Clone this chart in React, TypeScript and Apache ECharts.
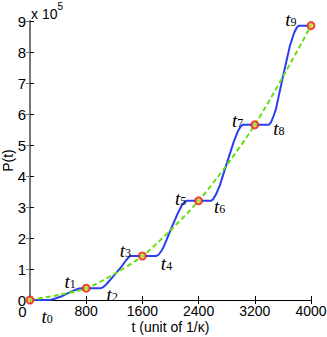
import React, { useEffect, useRef } from "react";
import * as echarts from "echarts";

// x ticks
const xTicks = [0, 800, 1600, 2400, 3200, 4000];
// sampled times (red circles)
const sampleT = [0, 800, 1600, 2400, 3200, 4000];
const sampleP = [0, 0.38, 1.42, 3.2, 5.65, 8.85];
// green dashed reference curve
const greenT = [0, 400, 800, 1200, 1600, 2000, 2400, 2800, 3200, 3600, 4000];
const greenP = [0, 0.16, 0.38, 0.84, 1.42, 2.25, 3.2, 4.35, 5.65, 7.2, 8.85];
// blue staircase curve
const blueT = [0, 250, 300, 350, 450, 550, 650, 700, 740, 1000, 1030, 1070, 1100, 1200, 1300, 1370, 1410, 1430, 1800, 1830, 1870, 1900, 2000, 2100, 2160, 2200, 2230, 2580, 2610, 2650, 2700, 2800, 2900, 2960, 3000, 3030, 3400, 3430, 3470, 3500, 3600, 3700, 3760, 3800, 3830, 4000];
const blueP = [0, 0, 0.01, 0.04, 0.12, 0.23, 0.33, 0.37, 0.38, 0.38, 0.4, 0.47, 0.54, 0.8, 1.07, 1.29, 1.39, 1.42, 1.42, 1.46, 1.58, 1.7, 2.25, 2.78, 3.05, 3.17, 3.2, 3.2, 3.26, 3.42, 3.68, 4.4, 5.1, 5.45, 5.6, 5.65, 5.65, 5.73, 5.95, 6.15, 7.2, 8.2, 8.62, 8.8, 8.85, 8.85];
// t_k annotation labels
const labelNames = ["0", "1", "2", "3", "4", "5", "6", "7", "8", "9"];
const labelT = [243, 571, 1171, 1357, 1943, 2143, 2700, 2957, 3543, 3714];
const labelP = [-0.52, 0.61, 0.19, 1.61, 1.19, 3.29, 3.03, 5.81, 5.55, 9.06];

export default function App() {
  const ref = useRef<HTMLDivElement>(null);
  useEffect(() => {
    document.body.style.margin = "0";
    const chart = echarts.init(ref.current!, null, { renderer: "svg" });
    const font = "Liberation Sans, Arial, sans-serif";
    const serif = "Liberation Serif, Times New Roman, serif";
    chart.setOption({
      animation: false,
      backgroundColor: "#ffffff",
      grid: { left: 30, right: 16, top: 21, bottom: 37, outerBoundsMode: "none", containLabel: false },
      xAxis: [
        {
          type: "value",
          min: 0,
          max: 4000,
          interval: 800,
          name: "t (unit of 1/κ)",
          nameLocation: "middle",
          nameGap: 20,
          nameMoveOverlap: false,
          nameTextStyle: { fontFamily: font, fontSize: 14, color: "#000" },
          axisLine: { onZero: false, lineStyle: { color: "#000", width: 1 } },
          axisTick: { inside: true, length: 4, lineStyle: { color: "#000" } },
          axisLabel: {
            fontFamily: font,
            fontSize: 14,
            color: "#000",
            margin: 4,
            formatter: (v: number) => (v === 0 ? "{z|0}" : String(v)),
            rich: { z: { fontFamily: font, fontSize: 15, color: "#000", padding: [0, 15, 0, 0] } },
          },
          splitLine: { show: false },
        },
        {
          type: "value",
          position: "top",
          min: 0,
          max: 4000,
          interval: 800,
          axisLine: { show: true, lineStyle: { color: "#000" } },
          axisTick: { inside: true, length: 4, lineStyle: { color: "#000" } },
          axisLabel: { show: false },
          splitLine: { show: false },
        },
      ],
      yAxis: [
        {
          type: "value",
          min: 0,
          max: 9,
          interval: 1,
          name: "P(t)",
          nameLocation: "middle",
          nameGap: 15,
          nameMoveOverlap: false,
          nameTextStyle: { fontFamily: font, fontSize: 14, color: "#000" },
          axisLine: { onZero: false, lineStyle: { color: "#000" } },
          axisTick: { inside: true, length: 4, lineStyle: { color: "#000" } },
          axisLabel: { fontFamily: font, fontSize: 15, color: "#000", margin: 4 },
          splitLine: { show: false },
        },
        {
          type: "value",
          position: "right",
          min: 0,
          max: 9,
          interval: 1,
          axisLine: { show: true, lineStyle: { color: "#777", width: 2 } },
          axisTick: { inside: true, length: 4, lineStyle: { color: "#777" } },
          axisLabel: { show: false },
          splitLine: { show: false },
        },
      ],
      graphic: [
        {
          type: "text",
          left: 31,
          top: 1,
          style: {
            text: "{a|x 10}{b|5}",
            rich: {
              a: { fontFamily: font, fontSize: 14, fill: "#000", padding: [6, 0, 0, 0] },
              b: { fontFamily: font, fontSize: 10, fill: "#000", verticalAlign: "top" },
            },
          },
        },
      ],
      series: [
        {
          type: "line",
          data: blueT.map((t, i) => [t, blueP[i]]),
          showSymbol: false,
          lineStyle: { color: "#2b3ff0", width: 2 },
          z: 2,
        },
        {
          type: "line",
          data: greenT.map((t, i) => [t, greenP[i]]),
          smooth: 0.3,
          showSymbol: false,
          lineStyle: { color: "#66e010", width: 2, type: [5, 3] },
          z: 3,
        },
        {
          type: "scatter",
          data: sampleT.map((t, i) => [t, sampleP[i]]),
          symbol: "circle",
          symbolSize: 7,
          clip: false,
          itemStyle: { color: "#c8e040", borderColor: "#f01818", borderWidth: 2 },
          z: 4,
        },
        {
          type: "scatter",
          data: labelT.map((t, i) => ({ value: [t, labelP[i]], name: labelNames[i] })),
          symbolSize: 0,
          clip: false,
          itemStyle: { color: "#000" },
          silent: true,
          label: {
            show: true,
            position: "inside",
            color: "#000",
            opacity: 1,
            textBorderWidth: 0,
            formatter: (p: any) => "{t|t}{s|" + p.name + "}",
            rich: {
              t: { fontFamily: serif, fontStyle: "italic", fontSize: 19, color: "#000", lineHeight: 18, verticalAlign: "top" },
              s: { fontFamily: serif, fontSize: 12, color: "#000", lineHeight: 12, padding: [10, 0, 0, 0], verticalAlign: "bottom" },
            },
          },
          z: 5,
        },
      ],
    });
    return () => chart.dispose();
  }, []);
  return <div ref={ref} style={{ width: 327, height: 337 }} />;
}
